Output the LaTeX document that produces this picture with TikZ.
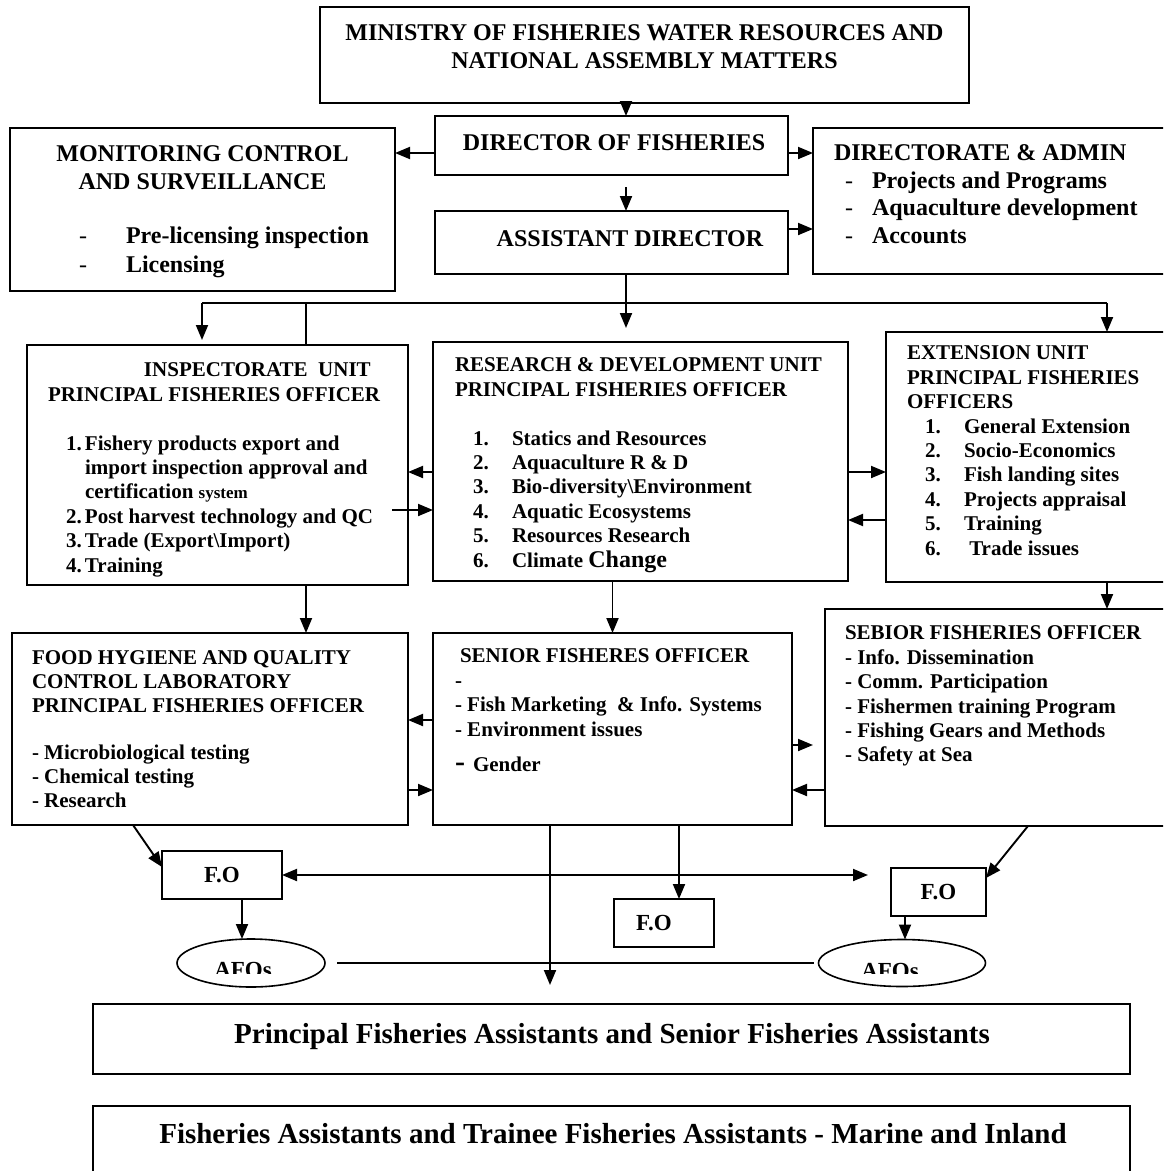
\documentclass[tikz,border=0pt]{standalone}
\usepackage{fontspec}
\setmainfont{Liberation Serif}
\usetikzlibrary{arrows.meta,shapes.geometric}
\newcommand{\fsz}[2]{\fontsize{#1}{#2}\selectfont}
\newcommand{\lbl}[2]{\makebox[#1][l]{#2}}
\tikzset{
  unit/.style={draw, line width=1.8pt, rectangle, inner sep=0pt, outer sep=0pt, fill=white},
  oval/.style={draw, line width=1.6pt, ellipse, inner sep=0pt, outer sep=0pt},
  txt/.style={inner sep=0pt, outer sep=0pt, align=left, font=\bfseries\fsz{21}{24.4}},
  big/.style={font=\bfseries\fsz{24}{27.5}},
  fo/.style={font=\bfseries\fsz{23}{26}},
  link/.style={line width=1.9pt},
  arr/.style={link, -{Triangle[length=15pt,width=12pt]}},
  dblarr/.style={link, {Triangle[length=15pt,width=12pt]}-{Triangle[length=15pt,width=12pt]}}
}
\begin{document}
\begin{tikzpicture}[x=1pt,y=-1pt]
  \clip (0,0) rectangle (1163,1171);
  % boxes, top
  \node[unit, minimum width=649pt, minimum height=96pt] (ministry) at (644.5,55) {};
  \node[unit, minimum width=353pt, minimum height=59pt] (dir) at (611.5,145.5) {};
  \node[unit, minimum width=353pt, minimum height=63pt] (asst) at (611.5,242.5) {};
  \node[unit, minimum width=385pt, minimum height=163pt] (mcs) at (202.5,209.5) {};
  \node[unit, minimum width=362pt, minimum height=146pt] (admin) at (994,201) {};
  % boxes, units
  \node[unit, minimum width=381pt, minimum height=240pt] (insp) at (217.5,465) {};
  \node[unit, minimum width=415pt, minimum height=239pt] (rd) at (640.5,461.5) {};
  \node[unit, minimum width=289pt, minimum height=250pt] (ext) at (1030.5,457) {};
  % boxes, officers
  \node[unit, minimum width=396pt, minimum height=192pt] (food) at (210,729) {};
  \node[unit, minimum width=359pt, minimum height=192pt] (senior) at (612.5,729) {};
  \node[unit, minimum width=350pt, minimum height=217pt] (sebior) at (1000,717.5) {};
  % F.O and AFOs
  \node[unit, fo, minimum width=120pt, minimum height=48pt] (fol) at (222,875) {F.O};
  \node[unit, fo, minimum width=100pt, minimum height=48pt] (fom) at (664,923) {F.O\hspace*{20pt}};
  \node[unit, fo, minimum width=95pt, minimum height=48pt] (for) at (938.5,892) {F.O};
  \node[oval, minimum width=148pt, minimum height=48pt] (afol) at (251,963) {};
  \node[oval, minimum width=167pt, minimum height=47pt] (afor) at (902,963) {};
  \begin{scope}
    \clip (150,940) rectangle (1000,973);
    \node[txt, fo, anchor=base] (afoltxt) at (243,977) {AFOs};
    \node[txt, fo, anchor=base] (afortxt) at (890,978) {AFOs};
  \end{scope}
  % assistants
  \node[unit, minimum width=1037pt, minimum height=70pt] (pfa) at (611.5,1039) {};
  \node[unit, minimum width=1037pt, minimum height=84pt] (fa) at (611.5,1148) {};

  % texts
  \node[txt, big, anchor=north, align=center] (ministrytxt) at (644.5,25) {MINISTRY OF FISHERIES WATER RESOURCES AND\\NATIONAL ASSEMBLY MATTERS};
  \node[txt, big, anchor=base] (dirtxt) at (614,150) {DIRECTOR OF FISHERIES};
  \node[txt, big, anchor=base] (assttxt) at (630,246) {ASSISTANT DIRECTOR};
  \node[txt, big, anchor=north, align=center] (mcshead) at (202.5,146) {MONITORING CONTROL\\AND SURVEILLANCE};
  \node[txt, big, anchor=north west, font=\bfseries\fsz{24}{29}] (mcslist) at (79,227) {\lbl{47pt}{\mdseries -}Pre-licensing inspection\\\lbl{47pt}{\mdseries -}Licensing};
  \node[txt, big, anchor=north west] (admintxt) at (834,145) {DIRECTORATE \& ADMIN\\
    \hspace*{11pt}\lbl{27pt}{\mdseries -}Projects and Programs\\
    \hspace*{11pt}\lbl{27pt}{\mdseries -}Aquaculture development\\
    \hspace*{11pt}\lbl{27pt}{\mdseries -}Accounts};
  \node[txt, anchor=north west] (insptxt) at (48,363) {\hspace*{96pt}INSPECTORATE\ \ UNIT\\PRINCIPAL FISHERIES OFFICER\\[24.4pt]
    \hspace*{18pt}\lbl{19pt}{1.}Fishery products export and\\
    \hspace*{37pt}import inspection approval and\\
    \hspace*{37pt}certification {\fsz{17}{24.4}system}\\
    \hspace*{18pt}\lbl{19pt}{2.}Post harvest technology and QC\\
    \hspace*{18pt}\lbl{19pt}{3.}Trade (Export\textbackslash Import)\\
    \hspace*{18pt}\lbl{19pt}{4.}Training};
  \node[txt, anchor=north west] (rdtxt) at (455,358) {RESEARCH \& DEVELOPMENT UNIT\\PRINCIPAL FISHERIES OFFICER\\[24.4pt]
    \hspace*{18pt}\lbl{39pt}{1.}Statics and Resources\\
    \hspace*{18pt}\lbl{39pt}{2.}Aquaculture R \& D\\
    \hspace*{18pt}\lbl{39pt}{3.}Bio-diversity\textbackslash Environment\\
    \hspace*{18pt}\lbl{39pt}{4.}Aquatic Ecosystems\\
    \hspace*{18pt}\lbl{39pt}{5.}Resources Research\\
    \hspace*{18pt}\lbl{39pt}{6.}Climate {\fsz{24}{24.4}Change}};
  \node[txt, anchor=north west] (exttxt) at (907,346) {EXTENSION UNIT\\PRINCIPAL FISHERIES\\OFFICERS\\
    \hspace*{18pt}\lbl{39pt}{1.}General Extension\\
    \hspace*{18pt}\lbl{39pt}{2.}Socio-Economics\\
    \hspace*{18pt}\lbl{39pt}{3.}Fish landing sites\\
    \hspace*{18pt}\lbl{39pt}{4.}Projects appraisal\\
    \hspace*{18pt}\lbl{39pt}{5.}Training\\
    \hspace*{18pt}\lbl{39pt}{6.}\ Trade issues};
  \node[txt, anchor=north west, font=\bfseries\fsz{21}{23.7}] (foodtxt) at (32,651) {FOOD HYGIENE AND QUALITY\\CONTROL LABORATORY\\PRINCIPAL FISHERIES OFFICER\\[23.7pt]
    - Microbiological testing\\- Chemical testing\\- Research};
  \node[txt, anchor=north west, font=\bfseries\fsz{21}{24.5}] (seniortxt) at (455,649) {\hspace*{5pt}SENIOR FISHERES OFFICER\\-\\
    - Fish Marketing\ \ \& Info. Systems\\- Environment issues\\[11pt]
    \lbl{18pt}{\fsz{30}{24.5}-}Gender};
  \node[txt, anchor=north west] (sebiortxt) at (845,626) {SEBIOR FISHERIES OFFICER\\- Info. Dissemination\\- Comm. Participation\\
    - Fishermen training Program\\- Fishing Gears and Methods\\- Safety at Sea};
  \node[txt, anchor=base, font=\bfseries\fsz{29}{32}] (pfatxt) at (612,1043) {Principal Fisheries Assistants and Senior Fisheries Assistants};
  \node[txt, anchor=base, font=\bfseries\fsz{29}{32}] (fatxt) at (613,1143) {Fisheries Assistants and Trainee Fisheries Assistants - Marine and Inland};

  % connectors, top
  \draw[arr] ([xshift=14.5pt]dir.north |- ministry.south) -- ([xshift=14.5pt]dir.north);
  \draw[arr] ([yshift=-7.5pt]dir.west) -- ([yshift=-7.5pt]dir.west -| mcs.east);
  \draw[arr] ([yshift=-7.5pt]dir.east) -- ([yshift=-7.5pt]dir.east -| admin.west);
  \draw[arr, shorten <=12pt] ([xshift=14.5pt]dir.south) -- ([xshift=14.5pt]asst.north);
  \draw[arr] ([yshift=13.5pt]asst.east) -- ([yshift=13.5pt]asst.east -| admin.west);
  % bus to the units
  \coordinate (busl) at (202,303);
  \coordinate (busi) at (306,303);
  \coordinate (busr) at (1107,303);
  \draw[link] (busl) -- (busr);
  \draw[arr, shorten >=14pt] ([xshift=14.5pt]asst.south) -- ([xshift=14.5pt]asst.south |- rd.north);
  \draw[arr, shorten >=5pt] (busl) -- (busl |- insp.north);
  \draw[link] (busi) -- (busi |- insp.north);
  \draw[arr] (busr) -- (busr |- ext.north);
  % between units
  \draw[arr] ([yshift=-10.5pt]rd.west) -- ([yshift=-10.5pt]rd.west -| insp.east);
  \draw[arr] ([xshift=-16pt,yshift=-45pt]insp.east) -- ([yshift=-45pt]insp.east -| rd.west);
  \draw[arr] ([yshift=-10.5pt]rd.east) -- ([yshift=-10.5pt]rd.east -| ext.west);
  \draw[arr] ([yshift=-63pt]ext.west) -- ([yshift=-63pt]ext.west -| rd.east);
  \draw[arr] (busi |- insp.south) -- (busi |- food.north);
  \draw[arr] (senior.north |- rd.south) -- (senior.north);
  \draw[arr] (busr |- ext.south) -- (busr |- sebior.north);
  % between officers
  \draw[arr] ([yshift=9pt]senior.west) -- ([yshift=9pt]senior.west -| food.east);
  \draw[arr] ([yshift=-61pt]food.east) -- ([yshift=-61pt]food.east -| senior.west);
  \draw[arr, shorten >=12pt] ([yshift=-16pt]senior.east) -- ([yshift=-16pt]senior.east -| sebior.west);
  \draw[arr] ([yshift=-61pt]senior.east -| sebior.west) -- ([yshift=-61pt]senior.east);
  % down to F.O, AFOs and assistants
  \draw[arr] ([xshift=-77pt]food.south) -- ([yshift=8pt]fol.west);
  \draw[arr] ([xshift=28pt]sebior.south) -- ([yshift=14pt]for.east);
  \draw[dblarr, shorten >=23pt] (fol.east) -- (fol.east -| for.west);
  \draw[arr, shorten >=19pt] ([xshift=-62.5pt]senior.south) -- ([xshift=-62.5pt]senior.south |- pfa.north);
  \draw[arr] ([xshift=66.5pt]senior.south) -- ([xshift=66.5pt]senior.south |- fom.north);
  \draw[arr] ([xshift=20pt]fol.south) -- ([xshift=20pt]fol.south |- afol.north);
  \draw[arr] ([xshift=-33.5pt]for.south) -- ([xshift=-33.5pt]for.south |- afor.north);
  \draw[link, shorten <=12pt, shorten >=5pt] (afol.east) -- (afor.west);
\end{tikzpicture}
\end{document}
